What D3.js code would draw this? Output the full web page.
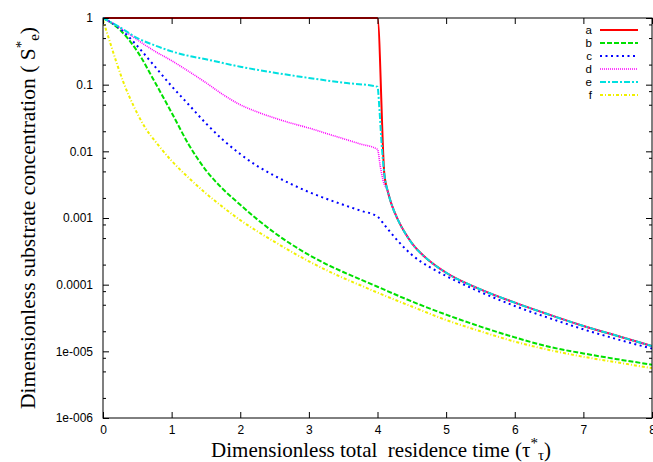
<!DOCTYPE html>
<html>
<head>
<meta charset="utf-8">
<script src="https://cdn.jsdelivr.net/npm/d3@7"></script>
<style>
  body { margin: 0; background: #fff; }
  svg { display: block; }
</style>
</head>
<body>
<div id="chart"></div>
<script>
var width = 653,
  height = 462,
  plotLeft = 103, plotRight = 652, plotTop = 18, plotBottom = 418;

// shared tail after the switch at t = 4 (curves a, d, e)
var tailT = [4.15, 4.2, 4.3, 4.4, 4.5, 4.75, 5.0, 5.5, 6.0, 6.5, 7.0, 7.5, 8.0];
var tailS = [0.0025, 0.00166, 0.00093, 0.0006, 0.00042, 0.00023, 0.000151, 0.000085, 0.0000537, 0.0000355, 0.000024, 0.000017, 0.000012];

var tA = [0, 4.0, 4.1];
var sA = [1, 1, 0.0045];

var tB = [0, 0.25, 0.5, 0.75, 1.0, 1.25, 1.5, 1.75, 2.0, 2.25, 2.5, 2.75, 3.0, 3.25, 3.5, 3.75, 4.0, 4.5, 5.0, 5.5, 6.0, 6.5, 7.0, 7.5, 8.0];
var sB = [1, 0.66, 0.316, 0.112, 0.038, 0.0126, 0.0052, 0.0027, 0.00158, 0.00095, 0.0006, 0.0004, 0.00028, 0.000204, 0.000155, 0.00012, 0.000093, 0.000056, 0.0000355, 0.0000235, 0.0000162, 0.0000117, 0.0000093, 0.0000076, 0.0000063];

var tC = [0, 0.25, 0.5, 0.75, 1.0, 1.25, 1.5, 1.75, 2.0, 2.25, 2.5, 2.75, 3.0, 3.25, 3.5, 3.75, 4.0, 4.1, 4.2, 4.3, 4.4, 4.5, 4.75, 5.0, 5.5, 6.0, 6.5, 7.0, 7.5, 8.0];
var sC = [1, 0.69, 0.38, 0.19, 0.095, 0.05, 0.0263, 0.0148, 0.0091, 0.006, 0.0043, 0.0032, 0.00245, 0.00195, 0.00158, 0.00129, 0.00105, 0.00079, 0.00059, 0.00045, 0.00035, 0.00028, 0.000186, 0.000135, 0.0000776, 0.0000479, 0.0000316, 0.0000214, 0.0000151, 0.000011];

var tD = [0, 0.25, 0.5, 0.75, 1.0, 1.25, 1.5, 1.75, 2.0, 2.25, 2.5, 2.75, 3.0, 3.25, 3.5, 3.75, 4.0, 4.04, 4.08];
var sD = [1, 0.71, 0.47, 0.32, 0.229, 0.158, 0.107, 0.0708, 0.05, 0.0389, 0.0316, 0.0263, 0.0224, 0.0186, 0.0155, 0.0129, 0.0107, 0.006, 0.0037];

var tE = [0, 0.25, 0.5, 0.75, 1.0, 1.25, 1.5, 2.0, 2.5, 3.0, 3.5, 4.0, 4.03, 4.06, 4.1];
var sE = [1, 0.72, 0.5, 0.39, 0.316, 0.27, 0.24, 0.186, 0.151, 0.126, 0.107, 0.093, 0.04, 0.013, 0.0045];

var tF = [0, 0.1, 0.2, 0.3, 0.45, 0.6, 0.8, 1.0, 1.25, 1.5, 1.75, 2.0, 2.25, 2.5, 2.75, 3.0, 3.25, 3.5, 3.75, 4.0, 4.5, 5.0, 5.5, 6.0, 6.5, 7.0, 7.5, 8.0];
var sF = [0.93, 0.44, 0.21, 0.107, 0.047, 0.024, 0.0126, 0.0072, 0.004, 0.00234, 0.00145, 0.00093, 0.00063, 0.00044, 0.00031, 0.000224, 0.000166, 0.000126, 0.000098, 0.000076, 0.000047, 0.0000295, 0.00002, 0.000014, 0.0000105, 0.0000083, 0.0000068, 0.0000056];

var names = ['a', 'b', 'c', 'd', 'e', 'f'];
var colors = ['#ff0000', '#00e000', '#0000ff', '#ff00ff', '#00e0e0', '#f0f000'];
var dashes = [null, '5,2', '2,3.5', '1,1', '6,2,2,2', '3,2,1,2'];
var widths = [2, 2, 2, 1.6, 2, 2];

var xTicks = [0, 1, 2, 3, 4, 5, 6, 7, 8];
var yTicks = [1, 0.1, 0.01, 0.001, 0.0001, 0.00001, 0.000001];
var yLabels = ['1', '0.1', '0.01', '0.001', '0.0001', '1e-005', '1e-006'];

function zip(ts, ss) { return ts.map((t, i) => [t, ss[i]]); }
var tail = zip(tailT, tailS);
var series = [
  zip(tA, sA).concat(tail),
  zip(tB, sB),
  zip(tC, sC),
  zip(tD, sD).concat(tail),
  zip(tE, sE).concat(tail),
  zip(tF, sF)
];

var xScale = d3.scaleLinear().domain([0, 8]).range([plotLeft, plotRight]);
var yScale = d3.scaleLog().domain([1e-6, 1]).range([plotBottom, plotTop]);

var svg = d3.select('#chart').append('svg')
  .attr('width', width)
  .attr('height', height);

var sans = 'Liberation Sans, Arial, sans-serif';
var serif = 'Liberation Serif, Times New Roman, serif';

// curves
svg.append('clipPath').attr('id', 'clip')
  .append('rect').attr('x', plotLeft).attr('y', plotTop - 2)
  .attr('width', plotRight - plotLeft).attr('height', plotBottom - plotTop + 2);

var line = d3.line()
  .x(d => xScale(d[0]))
  .y(d => yScale(d[1]))
  .curve(d3.curveMonotoneX);

var g = svg.append('g').attr('clip-path', 'url(#clip)');
series.forEach((s, i) => {
  g.append('path')
    .attr('d', line(s))
    .attr('fill', 'none')
    .attr('stroke', colors[i])
    .attr('stroke-width', widths[i])
    .attr('stroke-dasharray', dashes[i]);
});

// frame
svg.append('rect')
  .attr('x', plotLeft).attr('y', plotTop)
  .attr('width', plotRight - plotLeft).attr('height', plotBottom - plotTop)
  .attr('fill', 'none').attr('stroke', '#000').attr('stroke-width', 1);

// x ticks (bottom + mirrored on top)
var xAxis = d3.axisBottom(xScale).tickValues(xTicks).tickSize(-6).tickPadding(7).tickFormat(d3.format('d'));
var xg = svg.append('g').attr('transform', 'translate(0,' + plotBottom + ')').call(xAxis);
xg.select('.domain').remove();
xg.selectAll('text').attr('font-family', sans).attr('font-size', 12).attr('fill', '#000');
var xg2 = svg.append('g').attr('transform', 'translate(0,' + plotTop + ')')
  .call(d3.axisTop(xScale).tickValues(xTicks).tickSize(-6).tickFormat(''));
xg2.select('.domain').remove();

// y ticks: majors with labels, minors at 0.8, 0.5, 0.2 of each decade
var minors = [];
yTicks.slice(0, -1).forEach(v => { minors.push(v * 0.8, v * 0.5, v * 0.2); });

var yAxis = d3.axisLeft(yScale).tickValues(yTicks).tickSize(-6).tickPadding(10)
  .tickFormat((d, i) => yLabels[i]);
var yg = svg.append('g').attr('transform', 'translate(' + plotLeft + ',0)').call(yAxis);
yg.select('.domain').remove();
yg.selectAll('text').attr('font-family', sans).attr('font-size', 12).attr('fill', '#000');
var ym = svg.append('g').attr('transform', 'translate(' + plotLeft + ',0)')
  .call(d3.axisLeft(yScale).tickValues(minors).tickSize(-3).tickFormat(''));
ym.select('.domain').remove();

var yr = svg.append('g').attr('transform', 'translate(' + plotRight + ',0)')
  .call(d3.axisRight(yScale).tickValues(yTicks).tickSize(-6).tickFormat(''));
yr.select('.domain').remove();
var yrm = svg.append('g').attr('transform', 'translate(' + plotRight + ',0)')
  .call(d3.axisRight(yScale).tickValues(minors).tickSize(-3).tickFormat(''));
yrm.select('.domain').remove();

// legend
var leg = svg.append('g');
names.forEach((n, i) => {
  var y = 30 + i * 13;
  leg.append('text')
    .attr('x', 592).attr('y', y + 4)
    .attr('text-anchor', 'end')
    .attr('font-family', sans).attr('font-size', 11.5)
    .text(n);
  leg.append('line')
    .attr('x1', 600).attr('x2', 638).attr('y1', y).attr('y2', y)
    .attr('stroke', colors[i])
    .attr('stroke-width', widths[i])
    .attr('stroke-dasharray', dashes[i]);
});

// axis titles
var xt = svg.append('text')
  .attr('x', 381).attr('y', 457)
  .attr('text-anchor', 'middle')
  .attr('font-family', serif).attr('font-size', 21)
  .attr('xml:space', 'preserve');
xt.append('tspan').text('Dimensionless total  residence time (\u03c4');
xt.append('tspan').attr('dy', -9).attr('font-size', 15).text('*');
xt.append('tspan').attr('dy', 12).attr('font-size', 15).text('\u03c4');
xt.append('tspan').attr('dy', -3).text(')');

var yt = svg.append('text')
  .attr('transform', 'translate(35,218) rotate(-90)')
  .attr('text-anchor', 'middle')
  .attr('font-family', serif).attr('font-size', 21.5);
yt.append('tspan').text('Dimensionless substrate concentration ( S');
yt.append('tspan').attr('dy', -9).attr('font-size', 15).text('*');
yt.append('tspan').attr('dy', 13).attr('font-size', 15).text('e');
yt.append('tspan').attr('dy', -4).text(')');
</script>
</body>
</html>
